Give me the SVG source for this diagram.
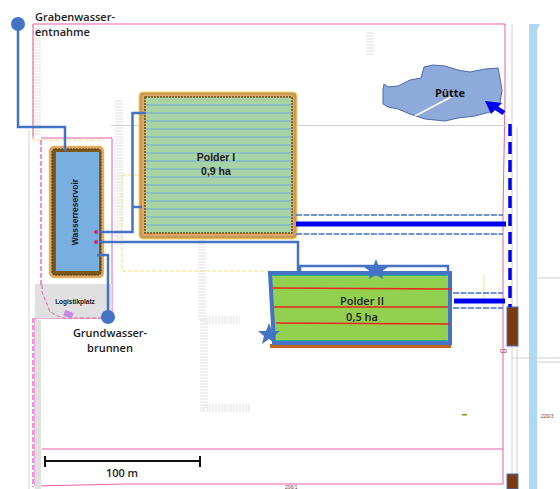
<svg xmlns="http://www.w3.org/2000/svg" width="560" height="489" viewBox="0 0 560 489">
<defs>
<style>
.t{font-family:"Open Sans","Noto Sans",sans-serif;fill:#222;font-weight:600}
.b{font-family:"Liberation Sans",Arial,sans-serif;fill:#1a1a1a;font-weight:700}
.pink{fill:none;stroke:#ea5fa6;stroke-width:1}
.mag{fill:none;stroke:#e020c0;stroke-width:1;stroke-dasharray:5 2}
.yel{fill:none;stroke:#f9dd78;stroke-width:1;stroke-dasharray:4 2}
.hatch{fill:none;stroke:#efefef;stroke-width:8;stroke-dasharray:2 1}
.pipe{fill:none;stroke:#4472c4;stroke-width:2.500}
.dash{fill:none;stroke:#4472c4;stroke-width:1.500;stroke-dasharray:6 1.500}
.heavy{fill:none;stroke:#0000ee;stroke-width:5}
.wl{stroke:#75a5de;stroke-width:1;fill:none}
.rl{stroke:#e8261a;stroke-width:1.500;fill:none}
.gr{stroke:#d0d0d0;stroke-width:1;fill:none}
</style>
</defs>
<rect width="560" height="489" fill="#fff"/>
<g id="site-plan">
<path class="hatch" d="M37 28V135M119 100V245M202 240V320H240M204 320V408H250"/>
<path class="hatch" d="M370 32V55"/>
<path class="yel" d="M33 24V140H104M122 175H146M122 175V271H270"/>
<path class="pink" d="M33 24H505V100L503 210V484H126L35 486V318"/>
<path class="pink" d="M41 138H112V318H35M42 449H503M33 24V138"/>
<path class="gr" d="M111 125.500H505M512 24V489M517 127V489M29 130V489"/>
<path d="M35 284H112V318H62L35 318Z" fill="#e0e0e0"/>
<path d="M42 285V292L50 312L62 318H110" fill="none" stroke="#ea5fa6" stroke-dasharray="4 2"/>
<rect x="35" y="320" width="6" height="169" fill="#e0e0e0"/>
<path class="mag" d="M33 318V487M41 140V285"/>
<rect x="64" y="311" width="9" height="6" fill="#c58be0" transform="rotate(20 68 314)"/>
<path d="M529 24H540L537 30V489H529Z" fill="#aed8f3"/>
<path class="gr" d="M537 278H560M537 358H560M537 362H560M534 358H512"/>
<text x="541" y="418" font-family="Liberation Sans,sans-serif" font-size="5" fill="#7a3a3a">220/3</text>
<text x="500" y="353" font-family="Liberation Sans,sans-serif" font-size="5" fill="#7a3a3a">CD</text>
<text x="285" y="489" font-family="Liberation Sans,sans-serif" font-size="5" fill="#7a3a3a">206/1</text>
<rect x="507" y="307" width="11" height="39" fill="#7b3a12" stroke="#4472c4"/>
<rect x="507" y="474" width="11" height="15" fill="#7b3a12" stroke="#4472c4"/>
<rect x="462" y="414" width="5" height="1.500" fill="#a08a20"/>
<path d="M484 274V311" stroke="#eee58a" fill="none"/>
</g>
<g id="polder-1">
<rect x="139" y="92" width="158" height="147" rx="4" fill="#c89a5a" stroke="#f2d45a"/>
<rect x="142" y="95" width="152" height="141" rx="3" fill="#e0a868"/>
<rect x="145" y="97" width="147" height="136" fill="#a8d4a4" stroke="#6b4a14" stroke-dasharray="2 1" stroke-width="1.500"/>
<path class="wl" d="M146 105H292M146 113H292M146 121H292M146 129H292M146 137H292M146 145H292M146 153H292M146 161H292M146 169H292M146 177H292M146 185H292M146 193H292M146 201H292M146 209H292M146 217H292M146 225H292"/>
<text class="b" x="216" y="161" text-anchor="middle" font-size="10.500">Polder I</text>
<text class="b" x="216" y="175" text-anchor="middle" font-size="10.500">0,9 ha</text>
</g>
<g id="wasserreservoir">
<rect x="49" y="146" width="55" height="132" rx="5" fill="#dfa468" stroke="#f0c860" stroke-width="0.500"/>
<rect x="52" y="149" width="49" height="126" rx="3" fill="#7a5a1a" stroke="#4a3208" stroke-dasharray="2 1"/>
<rect x="56" y="152" width="43" height="119" fill="#78aee0"/>
<text class="b" transform="translate(78,212) rotate(-90)" text-anchor="middle" font-size="8.500">Wasserreservoir</text>
<circle cx="96" cy="232" r="2" fill="#d6246e"/>
<circle cx="96" cy="242" r="2" fill="#d6246e"/>
</g>
<g id="logistikplatz">
<text class="b" x="75" y="304" text-anchor="middle" font-size="6.500">Logistikplatz</text>
</g>
<g id="polder-2">
<path d="M270 344H451V348H270Z" fill="#c4621f"/>
<path d="M270 273H450V343H274Z" fill="#92d050" stroke="#4472c4" stroke-width="4"/>
<path d="M272.500 275.500H447.500M275 340.500H447.500" stroke="#1fae8e" stroke-width="1" fill="none"/>
<path class="rl" d="M272 288L452 289M274 307H448M276 323L450 324"/>
<text x="362" y="305" text-anchor="middle" font-size="11" class="t">Polder II</text>
<text x="362" y="321" text-anchor="middle" font-size="11" class="t">0,5 ha</text>
</g>
<g id="puette">
<path d="M384 84L388 87L398 86L410 80L421 78L424 67L433 65L445 66L458 70L470 72L485 69L498 68L500 78L502 90L500 103L490 112L475 116L458 118L445 121L425 119L410 114L398 109L388 107L383 104L383 90Z" fill="#8eaadb" stroke="#4a6aa8"/>
<path d="M415 116L451 97" stroke="#fff" stroke-width="1.500" fill="none"/>
<text x="450" y="97" text-anchor="middle" font-size="11" font-weight="700" font-family="Open Sans,sans-serif" fill="#111">Pütte</text>
</g>
<g id="connectors">
<path class="pipe" d="M18 24V127H65V151"/>
<path class="pipe" d="M100 232H132.500V113H146M132.500 207H142"/>
<path class="pipe" d="M100 242H298V272"/>
<path class="pipe" d="M97 255H108V316"/>
<path class="pipe" d="M300 272V266H448V272"/>
<path class="dash" d="M296 215H503M296 234H503M453 293H503M453 308H503"/>
<path class="heavy" d="M296 224H506M454 301H505"/>
<path d="M510 124V307" fill="none" stroke="#0000ee" stroke-width="3.500" stroke-dasharray="12 6"/>
<path d="M504 113L493 106" fill="none" stroke="#0000ee" stroke-width="5"/>
<path d="M485 101L502 103L491 114Z" fill="#0000ee"/>
</g>
<g id="grabenwasser">
<circle cx="18" cy="24" r="7" fill="#4472c4"/>
<text class="t" x="35" y="21" font-size="11">Grabenwasser-</text>
<text class="t" x="35" y="36" font-size="11">entnahme</text>
</g>
<g id="grundwasser">
<circle cx="108" cy="317" r="7" fill="#4472c4"/>
<text class="t" x="110" y="337" text-anchor="middle" font-size="11">Grundwasser-</text>
<text class="t" x="110" y="352" text-anchor="middle" font-size="11">brunnen</text>
</g>
<g id="stars" fill="#4472c4">
<path d="M376 259L379 267L388 267L381 272L383 279L376 275L369 279L371 272L364 267L373 267Z"/>
<path d="M269 323L272 331L280 331L274 336L276 344L269 339L262 344L264 336L258 331L266 331Z"/>
</g>
<g id="massstab">
<path d="M45 461H200M45 456V467M200 456V467" fill="none" stroke="#111" stroke-width="2"/>
<text class="t" x="122" y="477" text-anchor="middle" font-size="11">100 m</text>
</g>
</svg>
